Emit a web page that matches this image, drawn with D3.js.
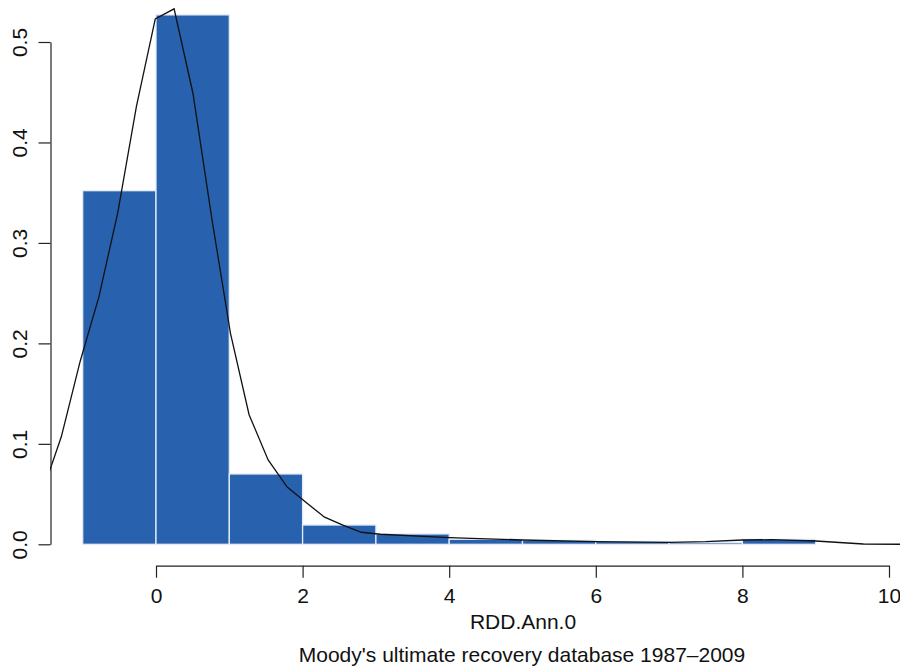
<!DOCTYPE html>
<html>
<head>
<meta charset="utf-8">
<script src="https://cdn.jsdelivr.net/npm/d3@7"></script>
<style>
  body { margin: 0; background: #fff; }
  svg text { font-family: "Liberation Sans", Arial, Helvetica, sans-serif; }
</style>
</head>
<body>
<svg width="900" height="669"></svg>
<script>
// histogram bins (left edge, width 1) and their densities
var binStart = [-1, 0, 1, 2, 3, 4, 5, 6, 7, 8];
var binDensity = [0.352, 0.527, 0.070, 0.0192, 0.0103, 0.005, 0.004, 0.0028, 0.0018, 0.005];

// kernel density curve
var densX = [-1.55, -1.292, -1.035, -0.78, -0.522, -0.267, -0.01, 0.247, 0.504, 0.76, 1.016, 1.27, 1.53, 1.79, 2.04, 2.30, 2.55, 2.80, 3.06, 4.0, 5.0, 6.0, 7.0, 7.5, 8.0, 8.4, 9.0, 9.65, 10.3];
var densY = [0.052, 0.107, 0.182, 0.246, 0.33, 0.436, 0.523, 0.533, 0.449, 0.325, 0.21, 0.129, 0.084, 0.057, 0.042, 0.027, 0.019, 0.012, 0.010, 0.0066, 0.0043, 0.0026, 0.002, 0.0026, 0.0043, 0.0046, 0.0033, 0.0003, 0];

var xTicks = [0, 2, 4, 6, 8, 10];
var yTicks = [0, 0.1, 0.2, 0.3, 0.4, 0.5];
var xLabel = "RDD.Ann.0";
var subLabel = "Moody's ultimate recovery database 1987\u20132009";

var svg = d3.select("svg");
var x = d3.scaleLinear().domain([0, 10]).range([156, 889]);
var y = d3.scaleLinear().domain([0, 0.5]).range([544.3, 42]);

// bars
svg.append("g").selectAll("rect")
    .data(binStart)
    .enter()
    .append("rect")
        .attr("x", function(d) { return x(d); })
        .attr("width", function(d) { return x(d + 1) - x(d); })
        .attr("y", function(d, i) { return y(binDensity[i]); })
        .attr("height", function(d, i) { return y(0) - y(binDensity[i]); })
        .attr("fill", "#2862ae")
        .attr("stroke", "#e4ecf7")
        .attr("stroke-width", 1.3);

// density line, clipped to plot region
svg.append("clipPath").attr("id", "plotclip")
    .append("rect").attr("x", 50).attr("y", -20).attr("width", 850).attr("height", 585.7);

var line = d3.line()
    .x(function(d) { return x(d); })
    .y(function(d, i) { return y(densY[i]); });

svg.append("path")
    .datum(densX)
    .attr("clip-path", "url(#plotclip)")
    .attr("d", line)
    .attr("fill", "none")
    .attr("stroke", "#111")
    .attr("stroke-width", 1.3)
    .attr("stroke-linejoin", "miter");

// axes
var xAxis = svg.append("g")
    .attr("transform", "translate(0,565.7)")
    .call(d3.axisBottom(x).tickValues(xTicks).tickSize(12).tickSizeOuter(0));
xAxis.selectAll("text").attr("y", 37).attr("dy", 0);

var yAxis = svg.append("g")
    .attr("transform", "translate(50.5,0)")
    .call(d3.axisLeft(y).tickValues(yTicks).tickFormat(d3.format(".1f")).tickSize(12).tickSizeOuter(0));
yAxis.selectAll("text")
    .attr("transform", "rotate(-90)")
    .attr("x", 0)
    .attr("y", -23.5)
    .attr("dy", 0)
    .attr("text-anchor", "middle");

svg.selectAll(".domain, .tick line").attr("stroke", "#222").attr("stroke-width", 1.2);
svg.selectAll(".tick text").attr("font-size", 21).attr("fill", "#111")
    .style("font-family", "'Liberation Sans', Arial, sans-serif");

// labels
svg.append("text").attr("x", 523).attr("y", 628.5).attr("text-anchor", "middle")
    .attr("font-size", 21).attr("fill", "#111").text(xLabel);
svg.append("text").attr("x", 522).attr("y", 662).attr("text-anchor", "middle")
    .attr("font-size", 21).attr("fill", "#111").text(subLabel);
</script>
</body>
</html>
